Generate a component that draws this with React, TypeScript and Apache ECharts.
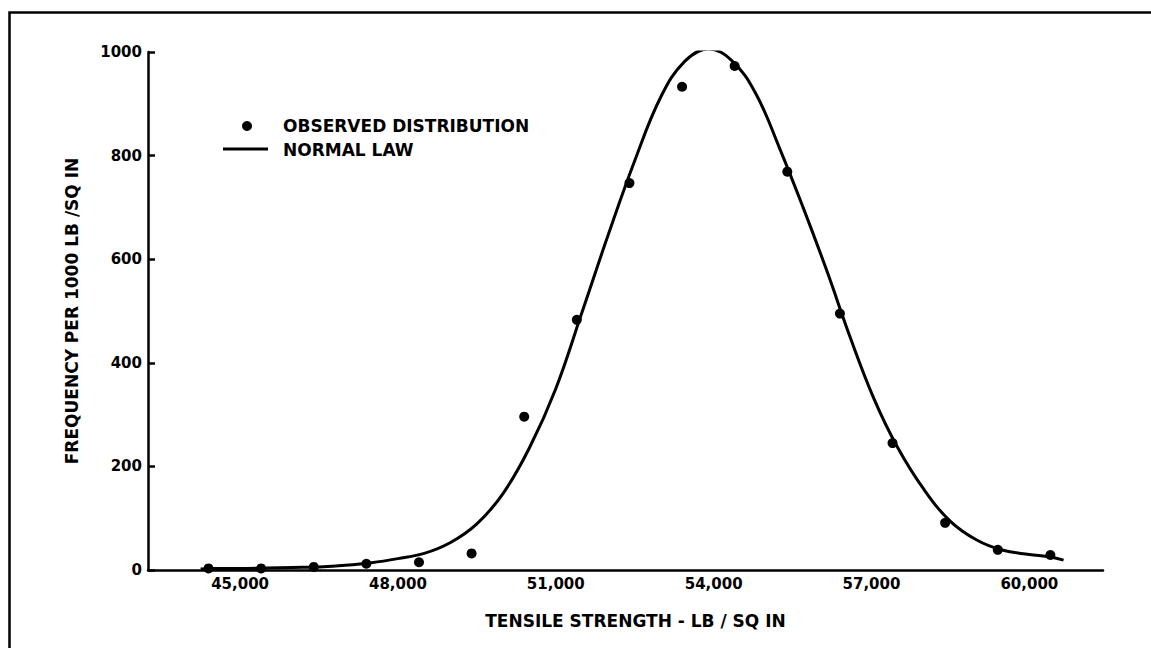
import React, { useEffect, useRef } from "react";
import * as echarts from "echarts";

const xTickValues = [45000, 48000, 51000, 54000, 57000, 60000];

const observedX = [44400, 45400, 46400, 47400, 48400, 49400, 50400, 51400, 52400, 53400, 54400, 55400, 56400, 57400, 58400, 59400, 60400];
const observedY = [3, 3, 6, 12, 15, 32, 296, 483, 747, 933, 973, 769, 495, 245, 91, 39, 29];

const curveX = [44250, 44500, 45000, 45500, 46000, 46500, 47000, 47500, 48000, 48500, 49000, 49500, 50000, 50500, 51000, 51500, 52000, 52500, 53000, 53450, 53900, 54350, 54800, 55250, 55700, 56150, 56600, 57050, 57500, 58000, 58500, 59000, 59500, 60000, 60400, 60650];
const curveY = [2, 3, 3, 4, 5, 6, 9, 14, 22, 32, 53, 89, 148, 236, 350, 498, 648, 790, 914, 982, 1006, 983, 920, 815, 700, 578, 448, 330, 236, 155, 94, 58, 38, 30, 25, 19];

const FONT = "DejaVu Sans";

export default function App() {
  const ref = useRef<HTMLDivElement>(null);
  useEffect(() => {
    document.body.style.margin = "0";
    const chart = echarts.init(ref.current!, null, { renderer: "svg" });
    chart.setOption({
      animation: false,
      backgroundColor: "#ffffff",
      grid: { left: 148, right: 48, top: 52, bottom: 78, containLabel: false },
      xAxis: {
        type: "value",
        min: 43250,
        max: 61400,
        name: "TENSILE STRENGTH - LB / SQ IN",
        nameLocation: "middle",
        nameGap: 42,
        nameTextStyle: { color: "#000", fontFamily: FONT, fontWeight: "bold", fontSize: 17, padding: [0, 0, 0, 20] },
        axisLine: { show: true, onZero: false, lineStyle: { color: "#000", width: 2.5 } },
        axisTick: { show: false },
        splitLine: { show: false },
        axisLabel: {
          customValues: xTickValues,
          formatter: (v: number) => v.toLocaleString("en-US"),
          color: "#000",
          fontFamily: FONT,
          fontWeight: "bold",
          fontSize: 15,
          margin: 6,
        },
      },
      yAxis: {
        type: "value",
        min: 0,
        max: 1000,
        interval: 200,
        name: "FREQUENCY PER 1000 LB /SQ IN",
        nameLocation: "middle",
        nameGap: 68,
        nameTextStyle: { color: "#000", fontFamily: FONT, fontWeight: "bold", fontSize: 17 },
        axisLine: { show: true, lineStyle: { color: "#000", width: 2.5 } },
        axisTick: { show: true, inside: true, length: 7, lineStyle: { color: "#000", width: 2.5 } },
        splitLine: { show: false },
        axisLabel: { formatter: (v: number) => String(v), color: "#000", fontFamily: FONT, fontWeight: "bold", fontSize: 15, margin: 6 },
      },
      graphic: [
        { type: "rect", left: 7, top: 10, shape: { x: 0, y: 0, width: 1160, height: 660 }, style: { fill: "none", stroke: "#000", lineWidth: 2.5 }, silent: true },
        { type: "circle", shape: { cx: 247, cy: 126, r: 5 }, style: { fill: "#000" } },
        { type: "line", shape: { x1: 223, y1: 149, x2: 268, y2: 149 }, style: { stroke: "#000", lineWidth: 3 } },
        { type: "text", x: 283, y: 126, style: { text: "OBSERVED DISTRIBUTION", fill: "#000", font: `bold 17px "${FONT}"`, verticalAlign: "middle" } },
        { type: "text", x: 283, y: 150, style: { text: "NORMAL LAW", fill: "#000", font: `bold 17px "${FONT}"`, verticalAlign: "middle" } },
      ],
      series: [
        {
          name: "NORMAL LAW",
          type: "line",
          data: curveX.map((x, i) => [x, curveY[i]]),
          smooth: 0.4,
          showSymbol: false,
          lineStyle: { color: "#000", width: 3 },
          z: 2,
        },
        {
          name: "OBSERVED DISTRIBUTION",
          type: "scatter",
          data: observedX.map((x, i) => [x, observedY[i]]),
          symbolSize: 10,
          itemStyle: { color: "#000", opacity: 1 },
          z: 3,
        },
      ],
    });
    return () => chart.dispose();
  }, []);
  return <div ref={ref} style={{ width: 1151, height: 648, background: "#fff" }} />;
}
